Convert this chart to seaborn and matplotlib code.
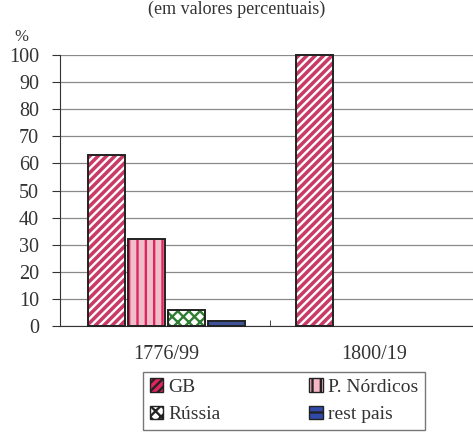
import pandas as pd
import matplotlib.pyplot as plt
import seaborn as sns
from matplotlib.patches import Patch

# values (percent)
periods = ['1776/99', '1800/19']
regions = ['GB', 'P. Nórdicos', 'Rússia', 'rest pais']
gb = [63, 100]
nordicos = [32, 0]
russia = [6, 0]
rest = [2, 0]

df = pd.DataFrame({
    'period': periods * 4,
    'region': [r for r in regions for _ in periods],
    'value': gb + nordicos + russia + rest,
})

sns.set_style('white')
plt.rcParams['font.family'] = ['Liberation Serif', 'DejaVu Serif']
plt.rcParams['hatch.linewidth'] = 1.7

fig = plt.figure(figsize=(4.73, 4.34), dpi=100)
ax = fig.add_axes([0.127, 0.249, 0.873, 0.624])

face = {'GB': '#e0245e', 'P. Nórdicos': '#f7b6c6', 'Rússia': 'white', 'rest pais': '#2f4aa8'}
hatch = {'GB': '////', 'P. Nórdicos': '||', 'Rússia': 'xxx', 'rest pais': '--'}
hcol = {'GB': 'white', 'P. Nórdicos': '#e0245e', 'Rússia': '#2e7d32', 'rest pais': '#9fb4e8'}

sns.barplot(data=df, x='period', y='value', hue='region', order=periods,
            hue_order=regions, palette=face, width=0.77, gap=0.075,
            edgecolor='#222222', linewidth=1.3, legend=False, ax=ax)

# apply pattern per bar, with a dark outline on top
for cont, reg in zip(ax.containers, regions):
    for p in cont.patches:
        p.set_hatch(hatch[reg])
        p.set_edgecolor(hcol[reg])
        p.set_linewidth(0)
        p.set_clip_on(False)
        x, w, h = p.get_x(), p.get_width(), p.get_height()
        if h > 0:
            ax.add_patch(plt.Rectangle((x, 0), w, h, fill=False,
                                       edgecolor='#222222', linewidth=1.4,
                                       zorder=3, clip_on=False))

ax.set_ylim(0, 100)
ax.set_xlim(-0.51, 1.475)
ax.set_yticks(range(0, 101, 10))
ax.yaxis.grid(True, color='#8a8a8a', linewidth=0.9)
ax.set_axisbelow(True)
ax.set_xlabel('')
ax.set_ylabel('')
for s in ['top', 'right']:
    ax.spines[s].set_visible(False)
ax.spines['left'].set_color('#333333')
ax.spines['bottom'].set_color('#333333')
ax.tick_params(axis='y', left=True, length=6, color='#333333', labelsize=14.5,
               labelcolor='#333333', pad=9)
ax.tick_params(axis='x', bottom=False, labelsize=14.5, labelcolor='#333333', pad=10)
ax.set_xticks([0.5], minor=True)
ax.tick_params(axis='x', which='minor', bottom=True, direction='in', length=4)

fig.text(0.03, 0.905, '%', fontsize=12, color='#333333')
fig.text(0.5, 0.999, '(em valores percentuais)', fontsize=13, ha='center', va='top',
         color='#333333')

# legend with patterned swatches, rows: GB / P. Nórdicos, Rússia / rest pais
order = ['GB', 'Rússia', 'P. Nórdicos', 'rest pais']
handles = [Patch(facecolor=face[r], hatch=hatch[r], edgecolor='#222222', label=r)
           for r in order]
leg = fig.legend(handles=handles, ncol=2, loc='lower left',
                 bbox_to_anchor=(0.302, 0.009, 0.596, 0.14), mode='expand',
                 borderaxespad=0, fontsize=14, frameon=True, fancybox=False,
                 edgecolor='#555555', handlelength=0.7, handleheight=0.7,
                 handletextpad=0.25, borderpad=0.35, labelspacing=0.5,
                 columnspacing=1.0)
leg.get_frame().set_linewidth(1.0)
for t in leg.get_texts():
    t.set_color('#333333')

plt.savefig('out.png', dpi=100)
